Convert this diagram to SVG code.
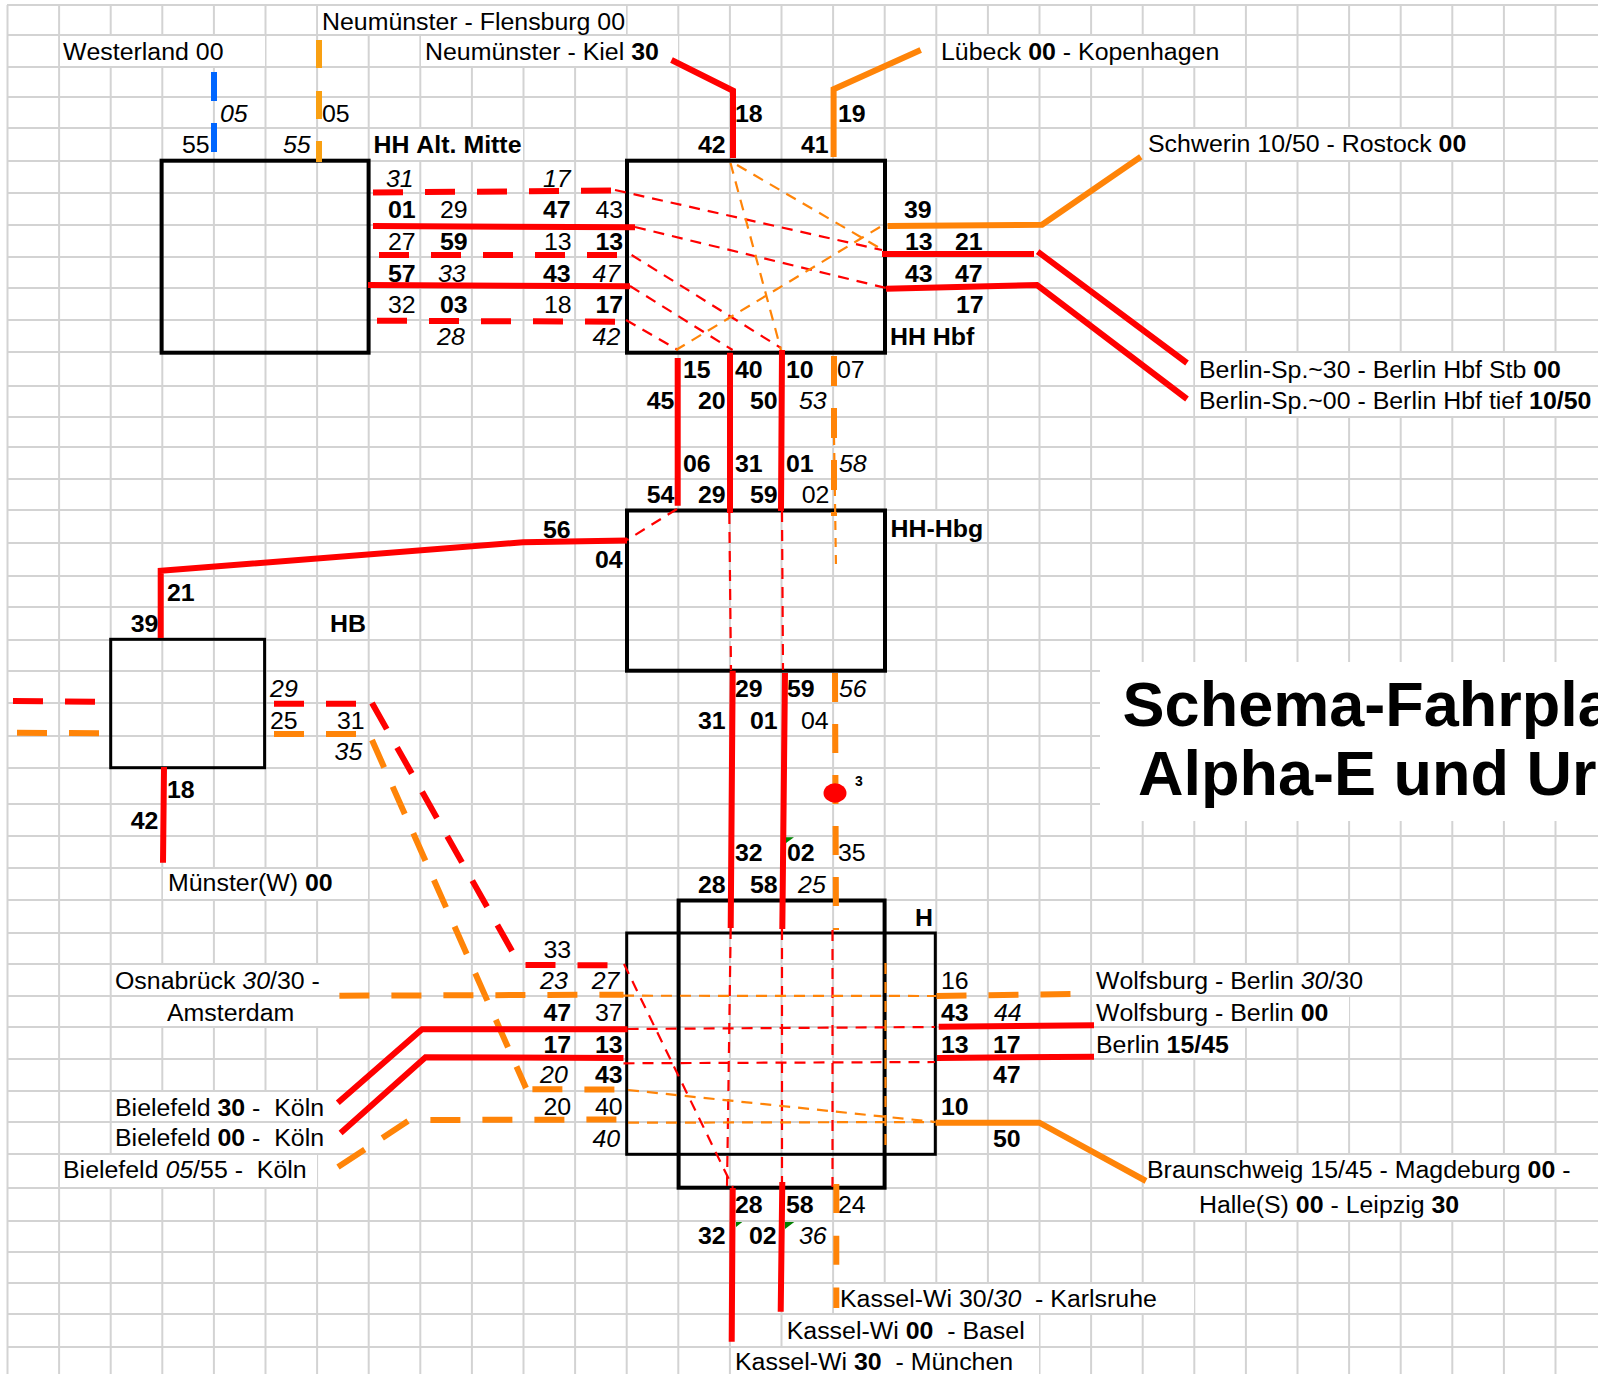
<svg xmlns="http://www.w3.org/2000/svg" width="1598" height="1374" viewBox="0 0 1598 1374">
<style>
text{font-family:"Liberation Sans",Arial,sans-serif;font-size:23.5px;fill:#000;white-space:pre;font-kerning:none;transform-box:fill-box;transform-origin:0 0;transform:scaleX(1.06)}
.b,.b tspan{font-weight:700}
.i{font-style:italic}
tspan.b{font-weight:700}
text.t{font-size:63px;font-weight:700;font-kerning:normal;transform:none}
text.s{font-size:14px;font-weight:700;transform:none}
.g{fill:none;stroke:#d3d3d3;stroke-width:2}
.w{fill:#fff}
.box{fill:none;stroke:#000;stroke-width:4}
.box3{fill:none;stroke:#000;stroke-width:3}
.l{fill:none;stroke-linejoin:miter;stroke-linecap:butt}
.r{stroke:#f00}.o{stroke:#ff8408}.y{stroke:#f9a012}.u{stroke:#0066ff}
.k{stroke-width:6}
.d{stroke-dasharray:30 22}
.n{stroke-width:2.2;stroke-dasharray:11 8}
</style>
<rect width="1598" height="1374" fill="#fff"/>
<path id="grid" class="g" d="M7.5 5V1374M59.1 5V1374M110.7 5V1374M162.3 5V1374M213.9 5V1374M265.5 5V1374M317.1 5V1374M368.7 5V1374M420.3 5V1374M471.9 5V1374M523.5 5V1374M575.1 5V1374M626.7 5V1374M678.3 5V1374M729.9 5V1374M781.5 5V1374M833.1 5V1374M884.7 5V1374M936.3 5V1374M987.9 5V1374M1039.5 5V1374M1091.1 5V1374M1142.7 5V1374M1194.3 5V1374M1245.9 5V1374M1297.5 5V1374M1349.1 5V1374M1400.7 5V1374M1452.3 5V1374M1503.9 5V1374M1555.5 5V1374M7 5H1598M7 35H1598M7 67H1598M7 97H1598M7 128H1598M7 161H1598M7 193H1598M7 225H1598M7 257H1598M7 288H1598M7 320H1598M7 352H1598M7 386H1598M7 417H1598M7 447H1598M7 479H1598M7 510H1598M7 543H1598M7 576H1598M7 607H1598M7 640H1598M7 671H1598M7 703H1598M7 736H1598M7 768H1598M7 804H1598M7 836H1598M7 868H1598M7 900H1598M7 933H1598M7 964H1598M7 996H1598M7 1027H1598M7 1059H1598M7 1091H1598M7 1122H1598M7 1154H1598M7 1188H1598M7 1221H1598M7 1252H1598M7 1283H1598M7 1314H1598M7 1347H1598"/>
<g id="cell-masks" class="w">
<rect x="318" y="6" width="308" height="28"/>
<rect x="60" y="36" width="205" height="30"/>
<rect x="421" y="36" width="257" height="30"/>
<rect x="938" y="36" width="307" height="30"/>
<rect x="370" y="129" width="153" height="31"/>
<rect x="1144" y="129" width="359" height="31"/>
<rect x="1195" y="353" width="403" height="32"/>
<rect x="1195" y="387" width="403" height="29"/>
<rect x="886" y="321" width="101" height="30"/>
<rect x="886" y="511" width="101" height="31"/>
<rect x="163" y="869" width="205" height="30"/>
<rect x="112" y="965" width="256" height="30"/>
<rect x="112" y="997" width="256" height="29"/>
<rect x="112" y="1092" width="256" height="29"/>
<rect x="112" y="1123" width="256" height="30"/>
<rect x="60" y="1155" width="257" height="32"/>
<rect x="1092" y="965" width="308" height="30"/>
<rect x="1092" y="997" width="257" height="29"/>
<rect x="1092" y="1028" width="153" height="30"/>
<rect x="1144" y="1155" width="454" height="32"/>
<rect x="1144" y="1189" width="359" height="31"/>
<rect x="834" y="1284" width="360" height="29"/>
<rect x="783" y="1315" width="256" height="31"/>
<rect x="731" y="1348" width="308" height="26"/>
<rect x="1100" y="662" width="498" height="159"/>
</g>
<g id="node-hh-alt-mitte"><rect class="box" x="161.6" y="160.7" width="207" height="192"/><text class="b" x="373.5" y="153">HH Alt. Mitte</text></g>
<g id="node-hh-hbf"><rect class="box" x="627" y="160.7" width="258" height="192"/><text class="b" x="890" y="345">HH Hbf</text></g>
<g id="node-hh-hbg"><rect class="box" x="627" y="510.5" width="258" height="160.2"/><text class="b" x="890.5" y="536.7">HH-Hbg</text></g>
<g id="node-hb"><rect class="box3" x="110.7" y="639.3" width="153.9" height="128.4"/><text class="b" x="330" y="631.7">HB</text></g>
<g id="node-h"><rect class="box" x="678.6" y="900.5" width="206" height="287.2"/><rect class="box3" x="626.7" y="933" width="308.6" height="221.3"/><text class="b" x="915" y="926">H</text></g>
<g id="connectors">
<path class="l u k" d="M214 72V101M214 123V152"/>
<path class="l y k" d="M319 40V68M319 91V119M319 141V162"/>
<path class="l r k d" d="M373 192.5L615 190.5M379 255H620M377 320.7L619 321.7"/>
<path class="l r k" d="M373 226L635 227.3M368 285L630 286.3"/>
<path class="l r n" d="M615 190L882 250M635 227L886 288M631.6 255L781 348M630 286L732.6 350M626 320L678 350"/>
<path class="l o n" d="M730.5 163L781 350M737 165L883 250M880 227L676 350"/>
<path class="l r k" d="M671.5 60L733 90.7V158"/>
<path class="l o k" d="M920.7 50L833.6 89.3V157"/>
<path class="l o k" d="M887.5 226L1042 224.7L1140.8 156.7"/>
<path class="l r k" d="M882 254H1034M1037.7 251.7L1187 363M886 288.7L1037 285L1187 399"/>
<path class="l r k" d="M677.7 358V505.7M730 352.7V513M782 350L781 511"/>
<path class="l o k d" d="M834 356V516"/>
<path class="l o n" d="M834 436L836 568" style="stroke-dasharray:9 8"/>
<path class="l r n" d="M677 509L627 540M729.3 513L731 670M782 511L783 670"/>
<path class="l r k" d="M160.7 638V570.7L523 542.3L627 540.5M164 767L163 862.7"/>
<path class="l r k" d="M732.7 670.7L730.7 928M785 673L782.3 929"/>
<path class="l o k" d="M835 673L836 930" style="stroke-dasharray:29 22"/>
<ellipse cx="835" cy="793" rx="11.5" ry="9.7" fill="#f00"/>
<path fill="#008000" d="M786 837.3H794L786 843ZM736 1222H742.3L736 1227ZM785 1222H794.3L785 1229Z"/>
<path class="l r k d" d="M13 701L96 701.7M274 703.7H357"/>
<path class="l o k d" d="M17 732.7L100 733.3M274 734H357"/>
<path class="l r k" style="stroke-dasharray:30 21" d="M372 703L512 951"/>
<path class="l o k" style="stroke-dasharray:30 21" d="M372 740L526 1088"/>
<path class="l r k d" d="M525.5 965L609 965.3"/>
<path class="l o k d" d="M532.4 1089.3L615 1089.5M339.4 995.7L623.5 994.7M936.5 996L1071.4 994"/>
<path class="l r n" d="M624 964L733 1187.7M627.6 1029L935 1027M623.5 1063.3L935 1062M730.7 928L727 1187M782 929V1182M832.5 930V1187"/>
<path class="l o n" d="M628 1090L935.6 1122M623 995.7L936 996M628 1122.7L935 1122M885.5 963V1151"/>
<path class="l r k" d="M337.8 1102.7L422 1029.3H627.6M340.6 1133L425.5 1057.3L623.5 1058M938.7 1026.7L1094 1025.3M937 1058L1094 1056.7"/>
<path class="l o k d" d="M338 1167L408 1121" style="stroke-dasharray:32 21"/>
<path class="l o k d" d="M430.4 1120L619 1119.5"/>
<path class="l o k" d="M935.6 1122.7H1039.4L1146 1181"/>
<path class="l r k" d="M732.7 1188L731.7 1341.7M782.3 1182L780.7 1311.7"/>
<path class="l o k" d="M836.3 1184V1308" style="stroke-dasharray:29 22.7"/>
</g>
<g id="terminals">
<text x="322" y="30">Neumünster - Flensburg 00</text>
<text x="63" y="60">Westerland 00</text>
<text x="425" y="60">Neumünster - Kiel <tspan class="b">30</tspan></text>
<text x="941" y="60">Lübeck <tspan class="b">00</tspan> - Kopenhagen</text>
<text x="1148" y="152">Schwerin 10/50 - Rostock <tspan class="b">00</tspan></text>
<text x="1199" y="378">Berlin-Sp.~30 - Berlin Hbf Stb <tspan class="b">00</tspan></text>
<text x="1199" y="409">Berlin-Sp.~00 - Berlin Hbf tief <tspan class="b">10/50</tspan></text>
<text x="168" y="890.7">Münster(W) <tspan class="b">00</tspan></text>
<text x="115" y="989">Osnabrück <tspan class="i">30</tspan>/30 -</text>
<text x="167" y="1020.7">Amsterdam</text>
<text x="115" y="1116">Bielefeld <tspan class="b">30</tspan> -  Köln</text>
<text x="115" y="1146.5">Bielefeld <tspan class="b">00</tspan> -  Köln</text>
<text x="63" y="1178">Bielefeld <tspan class="i">05</tspan>/55 -  Köln</text>
<text x="1096" y="989">Wolfsburg - Berlin <tspan class="i">30</tspan>/30</text>
<text x="1096" y="1020.7">Wolfsburg - Berlin <tspan class="b">00</tspan></text>
<text x="1096" y="1052.7">Berlin <tspan class="b">15/45</tspan></text>
<text x="1147" y="1178">Braunschweig 15/45 - Magdeburg <tspan class="b">00</tspan> -</text>
<text x="1199" y="1213">Halle(S) <tspan class="b">00</tspan> - Leipzig <tspan class="b">30</tspan></text>
<text x="840" y="1307">Kassel-Wi 30/<tspan class="i">30</tspan>  - Karlsruhe</text>
<text x="786.7" y="1339">Kassel-Wi <tspan class="b">00</tspan>  - Basel</text>
<text x="735" y="1370">Kassel-Wi <tspan class="b">30</tspan>  - München</text>
</g>
<g id="times">
<text class="i" x="220" y="122">05</text><text x="322" y="122">05</text><text x="182" y="153">55</text><text class="i" x="283" y="153">55</text>
<text class="i" x="386" y="187">31</text><text class="i" x="543" y="187">17</text>
<text class="b" x="388" y="218">01</text><text x="440" y="218">29</text><text class="b" x="543" y="218">47</text><text x="595.5" y="218">43</text>
<text x="388" y="250">27</text><text class="b" x="440" y="250">59</text><text x="544" y="250">13</text><text class="b" x="595.5" y="250">13</text>
<text class="b" x="388" y="282">57</text><text class="i" x="438" y="282">33</text><text class="b" x="543" y="282">43</text><text class="i" x="592.6" y="282">47</text>
<text x="388" y="313">32</text><text class="b" x="440" y="313">03</text><text x="544" y="313">18</text><text class="b" x="595.5" y="313">17</text>
<text class="i" x="437" y="345">28</text><text class="i" x="592.6" y="345">42</text>
<text class="b" x="735" y="122">18</text><text class="b" x="838" y="122">19</text><text class="b" x="698" y="153">42</text><text class="b" x="801" y="153">41</text>
<text class="b" x="904" y="218">39</text><text class="b" x="905" y="250">13</text><text class="b" x="955" y="250">21</text><text class="b" x="905" y="282">43</text><text class="b" x="955" y="282">47</text><text class="b" x="956" y="313">17</text>
<text class="b" x="683" y="378">15</text><text class="b" x="735" y="378">40</text><text class="b" x="786" y="378">10</text><text x="837" y="378">07</text>
<text class="b" x="646.7" y="409">45</text><text class="b" x="698" y="409">20</text><text class="b" x="750" y="409">50</text><text class="i" x="799" y="409">53</text>
<text class="b" x="683" y="471.7">06</text><text class="b" x="735" y="471.7">31</text><text class="b" x="786" y="471.7">01</text><text class="i" x="839" y="471.7">58</text>
<text class="b" x="646.7" y="503">54</text><text class="b" x="698" y="503">29</text><text class="b" x="750" y="503">59</text><text x="801.7" y="503">02</text>
<text class="b" x="543" y="538">56</text><text class="b" x="595" y="568">04</text>
<text class="b" x="167" y="600.7">21</text><text class="b" x="130.7" y="631.7">39</text>
<text class="i" x="270" y="697">29</text><text x="270" y="729">25</text><text x="337" y="729">31</text><text class="i" x="334.6" y="760">35</text>
<text class="b" x="167" y="797.7">18</text><text class="b" x="130.7" y="829">42</text>
<text class="b" x="735" y="697">29</text><text class="b" x="787" y="697">59</text><text class="i" x="839" y="697">56</text>
<text class="b" x="698" y="729">31</text><text class="b" x="750" y="729">01</text><text x="801" y="729">04</text>
<text class="s" x="855" y="786">3</text>
<text class="b" x="735" y="860.7">32</text><text class="b" x="787" y="860.7">02</text><text x="838" y="860.7">35</text>
<text class="b" x="698" y="892.7">28</text><text class="b" x="750" y="892.7">58</text><text class="i" x="798" y="892.7">25</text>
<text x="543.5" y="958">33</text><text class="i" x="540" y="989">23</text><text class="i" x="591.6" y="989">27</text>
<text class="b" x="543.5" y="1020.7">47</text><text x="595" y="1020.7">37</text>
<text class="b" x="543.5" y="1052.7">17</text><text class="b" x="595" y="1052.7">13</text>
<text class="i" x="540" y="1083">20</text><text class="b" x="595" y="1083">43</text>
<text x="543.5" y="1115">20</text><text x="595" y="1115">40</text><text class="i" x="592.4" y="1147">40</text>
<text x="941" y="989">16</text><text class="b" x="941" y="1020.7">43</text><text class="i" x="994" y="1020.7">44</text>
<text class="b" x="941" y="1052.7">13</text><text class="b" x="993" y="1052.7">17</text><text class="b" x="993" y="1083">47</text>
<text class="b" x="941" y="1115">10</text><text class="b" x="993" y="1147">50</text>
<text class="b" x="735" y="1213">28</text><text class="b" x="786" y="1213">58</text><text x="838" y="1213">24</text>
<text class="b" x="698" y="1244">32</text><text class="b" x="749" y="1244">02</text><text class="i" x="799" y="1244">36</text>
</g>
<g id="title">
<text class="t" x="1122.6" y="726">Schema-Fahrpla</text>
<text class="t" x="1138" y="795">Alpha-E und Ur</text>
</g>
</svg>
